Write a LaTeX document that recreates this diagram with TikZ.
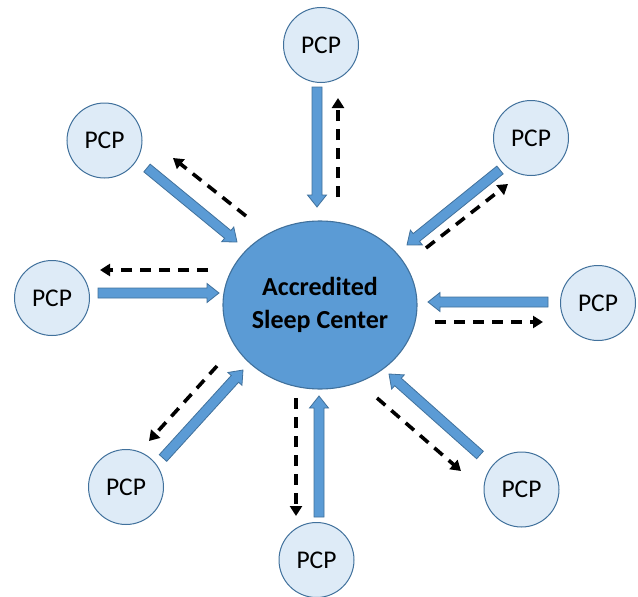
\documentclass[tikz,border=0pt]{standalone}
\usepackage{fontspec}
\setmainfont{Carlito}
\usetikzlibrary{shapes.geometric,arrows.meta,calc}

\definecolor{hubfill}{HTML}{5B9BD5}
\definecolor{hubline}{HTML}{41719C}
\definecolor{pcpfill}{HTML}{DEEBF7}

\tikzset{
  pcp/.style={circle, draw=hubline, line width=1pt, fill=pcpfill,
    minimum size=75pt, inner sep=0pt, font=\fontsize{25.5}{28}\selectfont},
  hub/.style={ellipse, draw=hubline, line width=1.1pt, fill=hubfill,
    minimum width=194pt, minimum height=168pt, inner sep=0pt},
  blockarrow/.style={draw=hubline, line width=0.8pt, fill=hubfill, line join=miter},
  dasharrow/.style={draw=black, line width=3.6pt, dash pattern=on 11pt off 8pt,
    -{Triangle[length=10pt,width=12pt]}}
}

% block arrow from #1 to #2: shaft 10pt wide, head 19pt wide and 12pt long
\newcommand{\blockarr}[2]{%
  \coordinate (hb) at ($(#2)!12pt!(#1)$);
  \draw[blockarrow]
    ($(#1)!5pt!90:(#2)$) -- ($(hb)!5pt!-90:(#1)$) -- ($(hb)!9.5pt!-90:(#1)$)
    -- (#2) -- ($(hb)!9.5pt!90:(#1)$) -- ($(hb)!5pt!90:(#1)$)
    -- ($(#1)!5pt!-90:(#2)$) -- cycle;}

\begin{document}
\begin{tikzpicture}[x=1pt, y=-1pt]
\path[use as bounding box] (0,0) rectangle (638,597);

% hub
\node[hub, label={[font=\bfseries\fontsize{26}{33}\selectfont, align=center]center:Accredited\\Sleep Center}] (asc) at (320,305) {};

% referring practices
\node[pcp] (pT)  at (321,45)      {PCP};
\node[pcp] (pTL) at (104.5,140.5) {PCP};
\node[pcp] (pTR) at (531,138)     {PCP};
\node[pcp] (pL)  at (52,298)      {PCP};
\node[pcp] (pR)  at (598,303)     {PCP};
\node[pcp] (pBL) at (126,487)     {PCP};
\node[pcp] (pB)  at (316.5,560)   {PCP};
\node[pcp] (pBR) at (521.5,489.5) {PCP};

% arrow end points: i = into the hub, o = out of the hub
\coordinate (iT1) at (317,87);   \coordinate (iT2) at (317,207);
\coordinate (oT1) at (338,197);  \coordinate (oT2) at (338,98);
\coordinate (iTL1) at (147,168); \coordinate (iTL2) at (237,242);
\coordinate (oTL1) at (246,216); \coordinate (oTL2) at (173,158);
\coordinate (iTR1) at (500,170); \coordinate (iTR2) at (407,245);
\coordinate (oTR1) at (426,248); \coordinate (oTR2) at (508,184);
\coordinate (iL1) at (98,293);   \coordinate (iL2) at (219,293);
\coordinate (oL1) at (208,270);  \coordinate (oL2) at (100,270);
\coordinate (iR1) at (548,302);  \coordinate (iR2) at (428,302);
\coordinate (oR1) at (435,322);  \coordinate (oR2) at (543,322);
\coordinate (iBL1) at (163,458); \coordinate (iBL2) at (243,370);
\coordinate (oBL1) at (217,366); \coordinate (oBL2) at (149,441);
\coordinate (iB1) at (319,517);  \coordinate (iB2) at (319,396);
\coordinate (oB1) at (296,398);  \coordinate (oB2) at (296,516);
\coordinate (iBR1) at (480,455); \coordinate (iBR2) at (389,374);
\coordinate (oBR1) at (377,398); \coordinate (oBR2) at (461,471);

% referrals into the hub
\blockarr{iT1}{iT2}
\blockarr{iTL1}{iTL2}
\blockarr{iTR1}{iTR2}
\blockarr{iL1}{iL2}
\blockarr{iR1}{iR2}
\blockarr{iBL1}{iBL2}
\blockarr{iB1}{iB2}
\blockarr{iBR1}{iBR2}

% returns to the practices
\draw[dasharrow] (oT1) -- (oT2);
\draw[dasharrow] (oTL1) -- (oTL2);
\draw[dasharrow] (oTR1) -- (oTR2);
\draw[dasharrow] (oL1) -- (oL2);
\draw[dasharrow] (oR1) -- (oR2);
\draw[dasharrow] (oBL1) -- (oBL2);
\draw[dasharrow] (oB1) -- (oB2);
\draw[dasharrow] (oBR1) -- (oBR2);
\end{tikzpicture}
\end{document}
